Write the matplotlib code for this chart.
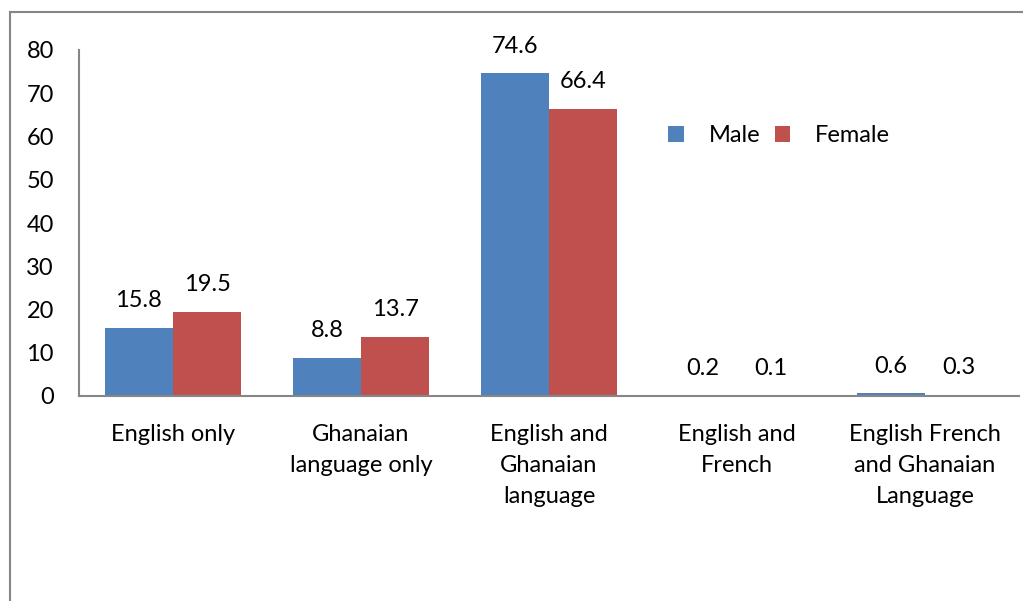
import numpy as np
import matplotlib
matplotlib.use("Agg")
from matplotlib import pyplot as plt
from matplotlib.patches import Rectangle

# ---- Data ----
categories = ["English only", "Ghanaian\nlanguage only", "English and\nGhanaian\nlanguage",
              "English and\nFrench", "English French\nand Ghanaian\nLanguage"]
male = [15.8, 8.8, 74.6, 0.2, 0.6]
female = [19.5, 13.7, 66.4, 0.1, 0.3]
yticks = [0, 10, 20, 30, 40, 50, 60, 70, 80]

BLUE = "#4F81BD"
RED = "#C0504D"
GREY = "#868686"
FS = 17

plt.rcParams["font.family"] = ["Lato", "DejaVu Sans"]

W, H = 1023, 601
fig = plt.figure(figsize=(W / 100, H / 100), dpi=100)

# outer chart frame (cut off at right and bottom)
fig.patches.append(Rectangle((10 / W, -0.1), 1.2, 1 - 12 / H + 0.1,
                             transform=fig.transFigure, fill=False,
                             edgecolor=GREY, linewidth=1.5))

ax = fig.add_axes([79 / W, 1 - 396 / H, (1019 - 79) / W, (396 - 50) / H])

x = np.arange(len(categories))
bw = 1 / 2.75
ax.bar(x - bw / 2, male, bw, color=BLUE, label="Male")
ax.bar(x + bw / 2, female, bw, color=RED, label="Female")

for xi, m, f in zip(x, male, female):
    ax.annotate(f"{m}", (xi - bw / 2, m), xytext=(0, 27), textcoords="offset pixels",
                ha="center", va="center", fontsize=FS)
    ax.annotate(f"{f}", (xi + bw / 2, f), xytext=(0, 27), textcoords="offset pixels",
                ha="center", va="center", fontsize=FS)

ax.set_xlim(-0.5, len(categories) - 0.5)
ax.set_ylim(0, 80)
ax.set_yticks(yticks)
ax.set_xticks(x)
ax.set_xticklabels(categories, fontsize=FS, linespacing=1.6, va="top")
ax.tick_params(axis="both", length=0, labelsize=FS)
ax.tick_params(axis="x", pad=20)
ax.tick_params(axis="y", pad=18)

for s in ["top", "right"]:
    ax.spines[s].set_visible(False)
for s in ["left", "bottom"]:
    ax.spines[s].set_color(GREY)
    ax.spines[s].set_linewidth(1.5)

ax.legend(loc="upper left", bbox_to_anchor=((647 - 79) / (1019 - 79), (396 - 104) / (396 - 50)),
          ncol=2, frameon=False, fontsize=FS, handlelength=0.65, handleheight=0.65,
          handletextpad=1.05, columnspacing=0.62)

fig.savefig("out.png", dpi=100)
